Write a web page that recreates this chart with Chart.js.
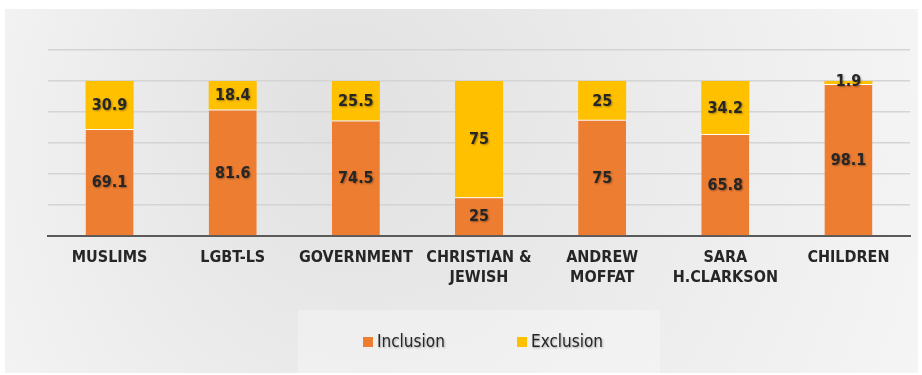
<!DOCTYPE html>
<html>
<head>
<meta charset="utf-8">
<script src="https://cdn.jsdelivr.net/npm/chart.js@4"></script>
<style>
  html, body { margin: 0; padding: 0; background: #fff; }
  #wrap { width: 922px; height: 375px; }
</style>
</head>
<body>
<div id="wrap"><canvas id="myChart" width="922" height="375"></canvas></div>
<script>
const ctx = document.getElementById("myChart");

// data
var categories = [["MUSLIMS"], ["LGBT-LS"], ["GOVERNMENT"], ["CHRISTIAN &", "JEWISH"], ["ANDREW", "MOFFAT"], ["SARA", "H.CLARKSON"], ["CHILDREN"]];
var inclusion = [69.1, 81.6, 74.5, 25, 75, 65.8, 98.1];
var exclusion = [30.9, 18.4, 25.5, 75, 25, 34.2, 1.9];
var seriesNames = ["Inclusion", "Exclusion"];

var FONT = "'Liberation Sans Narrow', 'DejaVu Sans Condensed', 'Liberation Sans', sans-serif";

// background panel with soft grey gradient
var panelBg = {
    id: "panelBg",
    beforeDraw: function(chart) {
        var c = chart.ctx;
        c.save();
        c.fillStyle = "#ffffff";
        c.fillRect(0, 0, chart.width, chart.height);
        var g = c.createRadialGradient(330, 110, 30, 460, 190, 600);
        g.addColorStop(0, "#e2e2e2");
        g.addColorStop(0.5, "#ededed");
        g.addColorStop(1, "#f8f8f8");
        c.fillStyle = g;
        c.fillRect(5, 9, 913, 364);
        c.fillStyle = "rgba(255,255,255,0.3)";
        c.fillRect(298, 310, 362, 63);
        c.restore();
    }
};

// value labels centred in each segment
var valueLabels = {
    id: "valueLabels",
    afterDatasetsDraw: function(chart) {
        var c = chart.ctx;
        c.save();
        c.font = "bold 16px " + FONT;
        c.textAlign = "center";
        c.textBaseline = "middle";
        chart.data.datasets.forEach(function(ds, i) {
            chart.getDatasetMeta(i).data.forEach(function(bar, j) {
                var v = ds.data[j];
                var y = (bar.y + bar.base) / 2;
                if (v < 5) y = bar.y;
                c.shadowColor = "rgba(0,0,0,0.35)";
                c.shadowBlur = 2;
                c.shadowOffsetX = 1;
                c.shadowOffsetY = 1;
                c.fillStyle = "#262626";
                c.fillText(String(v), bar.x, y + 1);
            });
        });
        c.restore();
    }
};

// legend drawn below the axis labels
var bottomLegend = {
    id: "bottomLegend",
    afterDraw: function(chart) {
        var c = chart.ctx;
        var xs = [363, 517];
        var y = 342;
        c.save();
        c.font = "17px " + FONT;
        c.textBaseline = "middle";
        c.textAlign = "left";
        chart.data.datasets.forEach(function(ds, i) {
            c.shadowColor = "transparent";
            c.fillStyle = ds.backgroundColor;
            c.fillRect(xs[i], y - 5, 10, 10);
            c.shadowColor = "rgba(0,0,0,0.3)";
            c.shadowBlur = 2;
            c.shadowOffsetX = 1;
            c.shadowOffsetY = 1;
            c.fillStyle = "#262626";
            c.fillText(ds.label, xs[i] + 14, y + 1);
        });
        c.restore();
    }
};

var data = {
    labels: categories,
    datasets: [
        {
            label: seriesNames[0],
            data: inclusion,
            backgroundColor: "#ED7D31",
            borderColor: "#ffffff",
            borderWidth: {top: 1, left: 0, right: 0, bottom: 0},
            borderSkipped: false,
            barPercentage: 0.39,
            categoryPercentage: 1.0
        },
        {
            label: seriesNames[1],
            data: exclusion,
            backgroundColor: "#FFC000",
            borderWidth: 0,
            barPercentage: 0.39,
            categoryPercentage: 1.0
        }
    ]
};

var myChart = new Chart(ctx, {
    type: "bar",
    data: data,
    plugins: [panelBg, valueLabels, bottomLegend],
    options: {
        responsive: false,
        animation: false,
        layout: { padding: { left: 48, right: 12, top: 50, bottom: 75 } },
        scales: {
            x: {
                stacked: true,
                grid: { display: false, drawTicks: false },
                border: { display: true, color: "#5a5a5a", width: 2 },
                ticks: {
                    color: "#262626",
                    font: { family: FONT, size: 16, weight: "bold", lineHeight: 1.25 },
                    padding: 12,
                    maxRotation: 0,
                    autoSkip: false
                },
                afterFit: function(s) { s.height = 64; }
            },
            y: {
                stacked: true,
                min: 0,
                max: 120,
                display: true,
                ticks: { display: false, stepSize: 20 },
                grid: { color: "#d4d4d4", lineWidth: 1.5, drawTicks: false },
                border: { display: false },
                afterFit: function(s) { s.width = 0; }
            }
        },
        plugins: {
            tooltip: { enabled: false },
            legend: { display: false }
        }
    }
});
</script>
</body>
</html>
